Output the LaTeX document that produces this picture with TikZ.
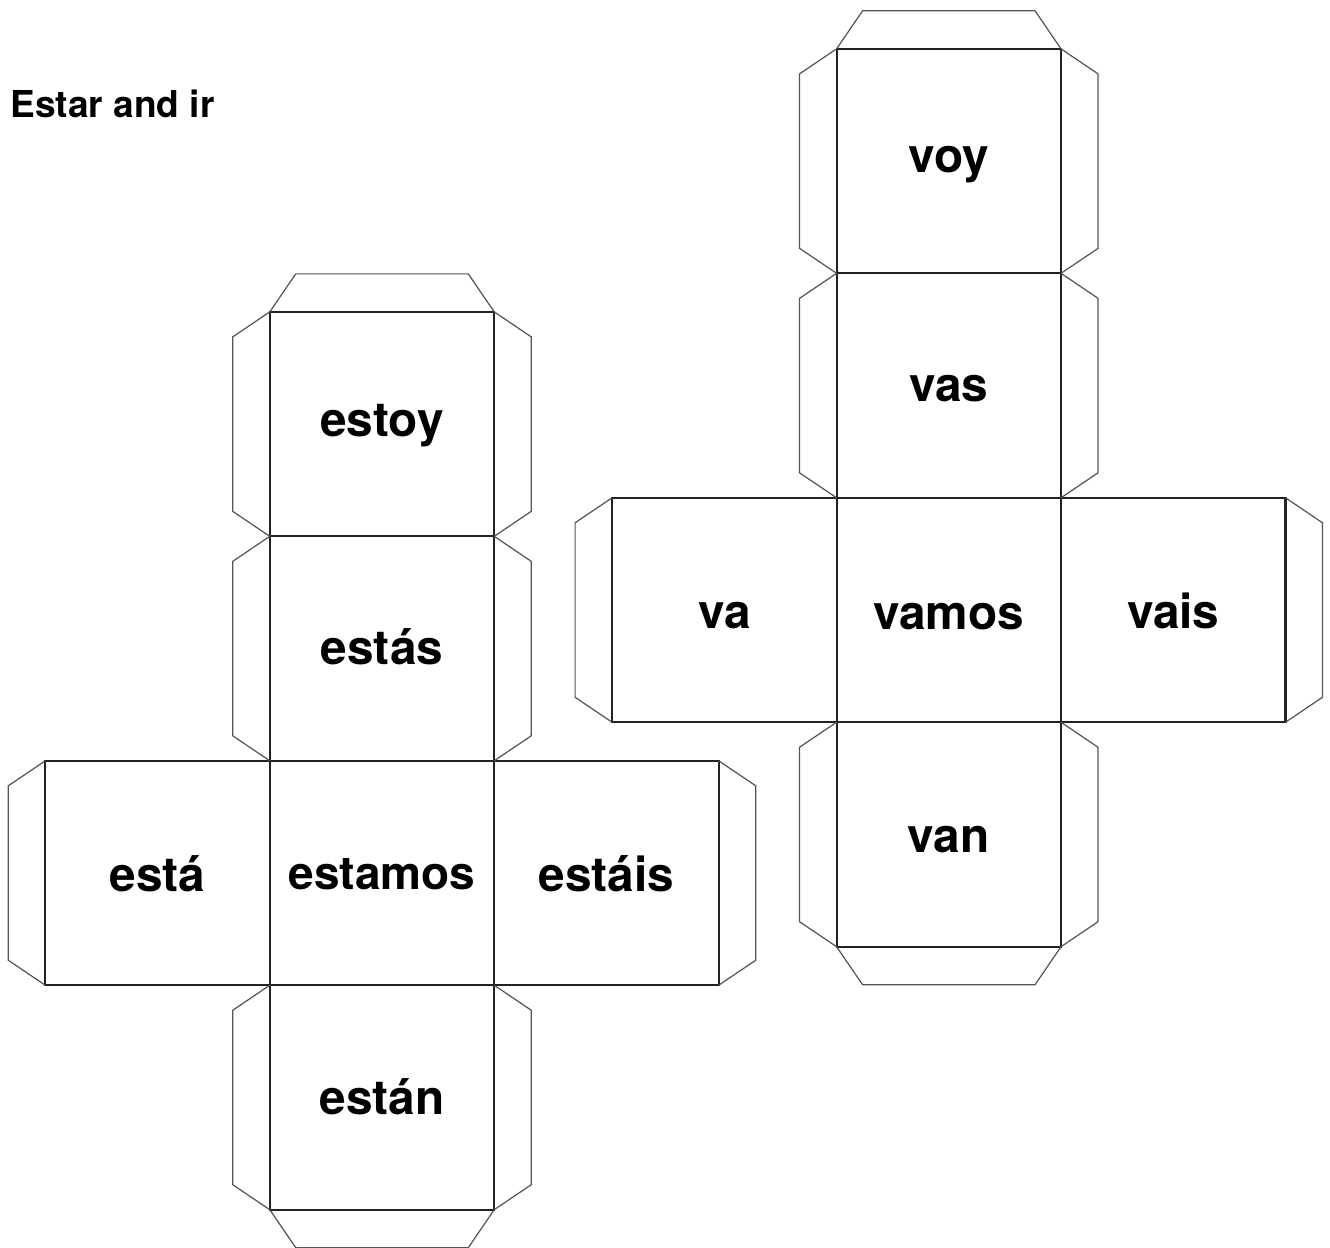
\documentclass[tikz,border=0pt]{standalone}
\usepackage{fontspec}
\setmainfont{TeX Gyre Heros}
\usetikzlibrary{positioning}

\definecolor{faceline}{HTML}{222222}
\definecolor{tabline}{HTML}{555555}

\tikzset{
  face/.style={draw=faceline, line width=1.2pt, minimum size=4.49cm, inner sep=0pt, outer sep=0pt,
    font=\fontsize{27.2}{32}\selectfont\bfseries, text height=19pt, text depth=0pt},
  tab/.style={draw=tabline, line width=0.7pt, line join=miter},
}

\begin{document}
\begin{tikzpicture}[x=0.02cm, y=-0.02cm]
    \useasboundingbox (0,0) rectangle (1330,1248);

    % Title
    \node[anchor=base west, inner sep=0pt, font=\fontsize{21.1}{25}\selectfont\bfseries] (title) at (10,117.7) {Estar and ir};

    % Estar cube faces
    \node[face, font=\fontsize{26.2}{31}\selectfont\bfseries, text height=18.5pt] (estamos) at (382,873) {estamos};
    \node[face, left=0pt of estamos, text height=21pt] (esta) {está};
    \node[face, right=0pt of estamos, text height=21pt] (estais) {estáis};
    \node[face, above=0pt of estamos, text height=18.1pt] (estas) {estás};
    \node[face, above=0pt of estas, text height=14.2pt] (estoy) {estoy};
    \node[face, below=0pt of estamos, text height=19.8pt] (estan) {están};

    % Estar cube flaps
    \foreach \n in {estoy,estas,estan}{
      \draw[tab] (\n.north west) -- ++(-37,25) -- ++(0,174.5) -- (\n.south west);
      \draw[tab] (\n.north east) -- ++(37,25) -- ++(0,174.5) -- (\n.south east);
    }
    \draw[tab] (esta.north west) -- ++(-37,25) -- ++(0,174.5) -- (esta.south west);
    \draw[tab] (estais.north east) -- ++(37,25) -- ++(0,174.5) -- (estais.south east);
    \draw[tab] (estoy.north west) -- ++(26,-38) -- ++(172.5,0) -- (estoy.north east);
    \draw[tab] (estan.south west) -- ++(26,38) -- ++(172.5,0) -- (estan.south east);

    % Ir cube faces
    \node[face, text height=21.9pt] (vamos) at (948.8,610) {vamos};
    \node[face, left=0pt of vamos, text height=21.5pt] (va) {va};
    \node[face, right=0pt of vamos, text height=21.5pt] (vais) {vais};
    \node[face, above=0pt of vamos, text height=18.7pt] (vas) {vas};
    \node[face, above=0pt of vas, text height=12.5pt] (voy) {voy};
    \node[face, below=0pt of vamos, text height=21pt] (van) {van};

    % Ir cube flaps
    \foreach \n in {voy,vas,van}{
      \draw[tab] (\n.north west) -- ++(-37,25) -- ++(0,174.5) -- (\n.south west);
      \draw[tab] (\n.north east) -- ++(37,25) -- ++(0,174.5) -- (\n.south east);
    }
    \draw[tab] (va.north west) -- ++(-37,25) -- ++(0,174.5) -- (va.south west);
    \draw[tab] (vais.north east) -- ++(37,25) -- ++(0,174.5) -- (vais.south east);
    \draw[tab] (voy.north west) -- ++(26,-38) -- ++(172.5,0) -- (voy.north east);
    \draw[tab] (van.south west) -- ++(26,38) -- ++(172.5,0) -- (van.south east);

\end{tikzpicture}
\end{document}
